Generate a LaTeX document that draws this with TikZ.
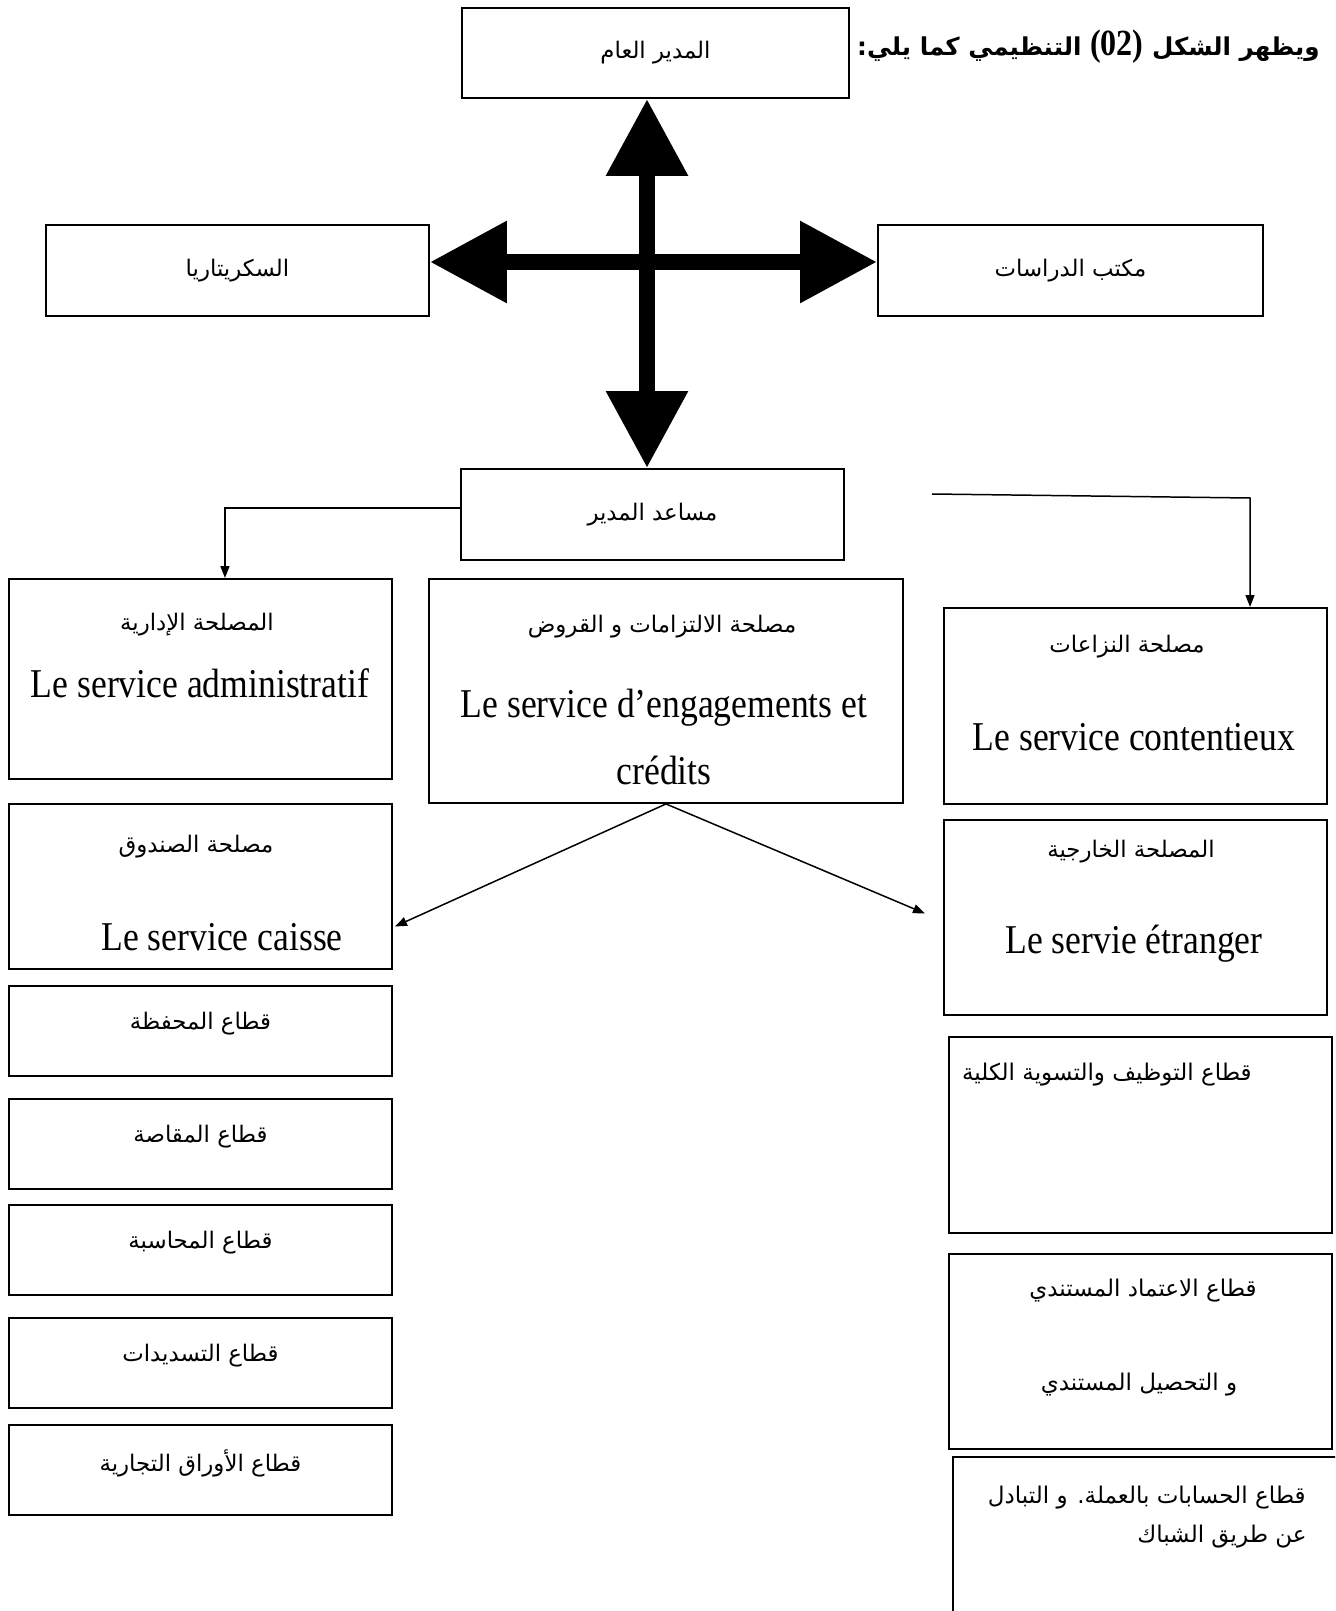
\documentclass[tikz,border=0pt]{standalone}
\usepackage{fontspec}
\setmainfont{Liberation Serif}[FakeStretch=0.87]
\newfontfamily\arabicfont[Script=Arabic]{DejaVu Sans}
\TeXXeTstate=1
\usetikzlibrary{arrows.meta,calc,positioning}
\newdimen\px \px=0.02cm
\newcommand{\artxt}[1]{{\arabicfont\beginR #1\endR}}

\begin{document}
\begin{tikzpicture}[x=\px,y=-\px,
  box/.style={draw,line width=1.1pt,anchor=north west,inner sep=0pt},
  lat/.style={font=\fontsize{23.3}{28}\selectfont,inner sep=0pt},
  arb/.style={font=\fontsize{13}{16}\selectfont,inner sep=0pt},
  arbig/.style={font=\fontsize{13.1}{16}\selectfont,inner sep=0pt},
  conn/.style={line width=0.85pt,-{Triangle[length=0.24cm,width=0.18cm]}},
  bighead/.tip={Triangle[length=1.54cm,width=1.56cm]},
  bigarrow/.style={line width=0.32cm,bighead-bighead}]
\useasboundingbox (0,0) rectangle (1335,1611);
\clip (0,0) rectangle (1335,1611);
% title
\node[anchor=east,inner sep=0pt,font=\fontsize{14}{18}\selectfont\bfseries] (title) at (1320,47)
  {\arabicfont\beginR ويظهر الشكل \beginL{\rmfamily\fontsize{21}{22}\selectfont(02)}\endL{}  التنظيمي كما يلي:\endR};
% top level
\node[box,arb,minimum width=387\px,minimum height=90\px] (gm) at (461,7) {\artxt{المدير العام}};
\node[box,arb,minimum width=383\px,minimum height=91\px] (sec) at (45,224) {\artxt{السكريتاريا}};
\node[box,arb,minimum width=385\px,minimum height=91\px] (stud) at (877,224) {\artxt{مكتب الدراسات}};
\node[box,arb,minimum width=383\px,minimum height=91\px] (asst) at (460,468) {\artxt{مساعد المدير}};
\coordinate (hub) at (647,262);
\draw[bigarrow] (hub |- gm.south) -- (hub |- asst.north);
\draw[bigarrow] (sec.east |- hub) -- (stud.west |- hub);
% services
\node[box,minimum width=383\px,minimum height=200\px] (adm) at (8,578) {};
\node[arb] (adm-ar) at (197,625) {\artxt{المصلحة الإدارية}};
\node[lat] (adm-fr) at (200,683) {Le service administratif};
\node[box,minimum width=474\px,minimum height=224\px] (eng) at (428,578) {};
\node[arb] (eng-ar) at (662,627) {\artxt{مصلحة الالتزامات و القروض}};
\node[lat] (eng-fr) at (664,708) {Le service d’engagements et};
\node[lat] (eng-fr2) at (664,770) {crédits};
\node[box,minimum width=383\px,minimum height=196\px] (cont) at (943,607) {};
\node[arb] (cont-ar) at (1127,647) {\artxt{مصلحة النزاعات}};
\node[lat] (cont-fr) at (1134,737) {Le service contentieux};
\node[box,minimum width=383\px,minimum height=165\px] (caisse) at (8,803) {};
\node[arb] (caisse-ar) at (196,847) {\artxt{مصلحة الصندوق}};
\node[lat] (caisse-fr) at (222,937) {Le service caisse};
\node[box,minimum width=383\px,minimum height=195\px] (etr) at (943,819) {};
\node[arb] (etr-ar) at (1131,852) {\artxt{المصلحة الخارجية}};
\node[lat] (etr-fr) at (1134,944) {Le servie étranger};
% connectors
\draw[conn] ($(asst.west)+(0,-6.5)$) -| ($(adm.north)+(24.5,0)$);
\coordinate (rstart) at (932,494);
\coordinate (rbend) at (1250,498);
\draw[conn] (rstart) -- (rbend) -- (rbend |- cont.north);
\draw[conn] (eng.south) -- ($(caisse.east)+(2,40)$);
\draw[conn] (eng.south) -- ($(etr.west)+(-18,-4)$);
% sectors, left column
\foreach \y/\t [count=\i] in {985/{قطاع المحفظة},1098/{قطاع المقاصة},1204/{قطاع المحاسبة},
                              1317/{قطاع التسديدات},1424/{قطاع الأوراق التجارية}} {
  \node[box,minimum width=383\px,minimum height=90\px] (ls\i) at (8,\y) {};
  \node[arb] (ls\i-t) at ($(ls\i.center)+(0,-7)$) {\artxt{\t}};
}
% sectors, right column
\node[box,minimum width=383\px,minimum height=196\px] (rs1) at (948,1036) {};
\node[arbig,anchor=east] (rs1-t) at (1252,1075) {\artxt{قطاع التوظيف والتسوية الكلية}};
\node[box,minimum width=383\px,minimum height=195\px] (rs2) at (948,1253) {};
\node[arbig] (rs2-t) at (1143,1291) {\artxt{قطاع الاعتماد المستندي}};
\node[arbig] (rs2-t2) at (1139,1385) {\artxt{و التحصيل المستندي}};
\node[box,minimum width=420\px,minimum height=200\px] (rs3) at (952,1456) {};
\node[arbig,anchor=east] (rs3-t) at (1306,1498) {\artxt{قطاع الحسابات بالعملة. و التبادل}};
\node[arbig,anchor=east] (rs3-t2) at (1307,1537) {\artxt{عن طريق الشباك}};
\end{tikzpicture}
\end{document}
